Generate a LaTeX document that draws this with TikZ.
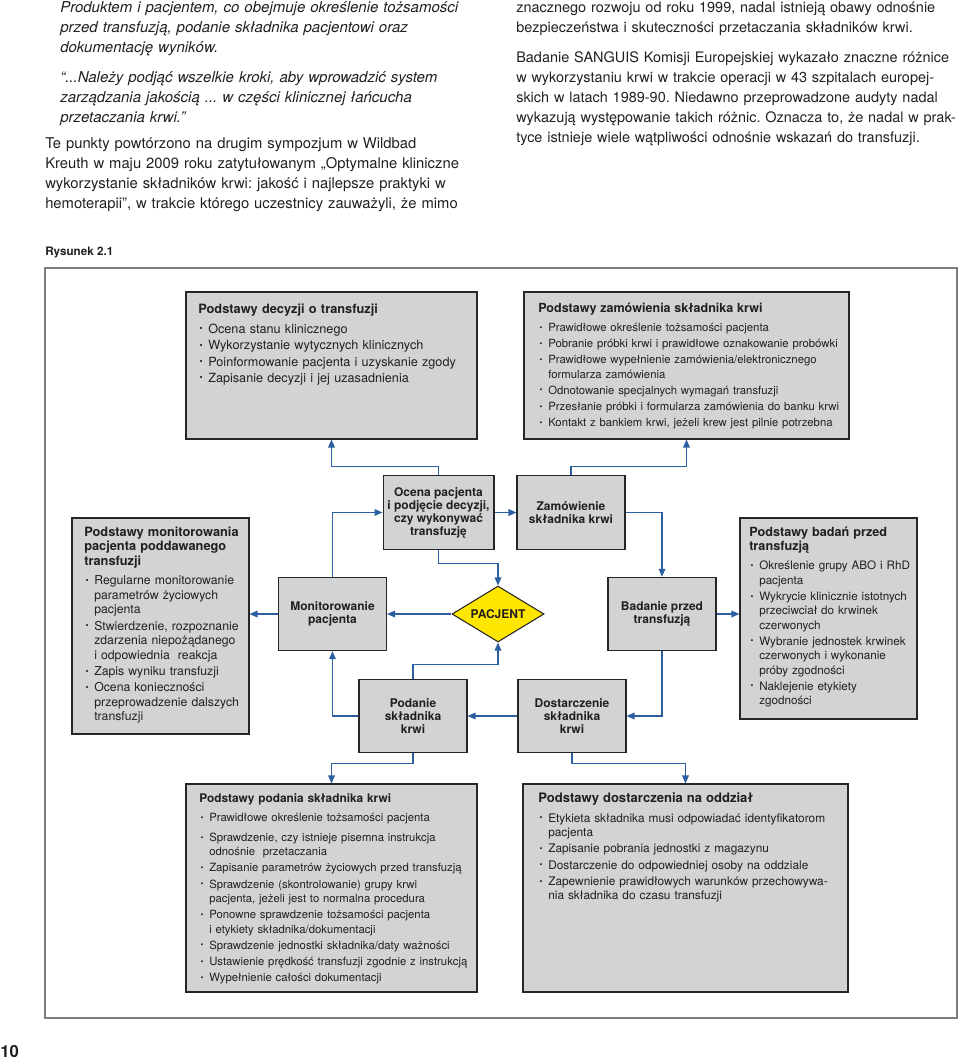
\documentclass[tikz,border=0pt]{standalone}
\usepackage{fontspec}
\setmainfont{TeX Gyre Heros}
\usetikzlibrary{arrows.meta,shapes.geometric,positioning}
\definecolor{bdgray}{RGB}{209,211,213}
\definecolor{bdframe}{RGB}{125,125,125}
\definecolor{bdblue}{RGB}{44,95,160}
\definecolor{bdyellow}{RGB}{255,230,0}
\definecolor{bdtext}{RGB}{35,31,32}
\frenchspacing
\newcommand{\boxtitle}[2]{{\fontsize{#1}{10.8}\selectfont\bfseries #2\par}\vspace{2.5pt}}
\newcommand{\itm}[1]{\par\vspace{1.3pt}\hangindent=7.5pt\hangafter=1\noindent\makebox[7.5pt][l]{\hspace{1pt}\raisebox{.22ex}{\scalebox{.7}{\textbullet}}}#1\par}

\begin{document}
\begin{tikzpicture}[x=0.75pt, y=-0.75pt, text=bdtext,
  infobox/.style={rectangle, draw=black!85, line width=0.8pt, fill=bdgray},
  stepbox/.style={infobox, minimum width=81pt, minimum height=55pt, align=center, font=\fontsize{9}{9.75}\selectfont\bfseries},
  listtext/.style={anchor=base west, inner sep=0pt, align=left, font=\fontsize{8.5}{10.8}\selectfont},
  bodytext/.style={anchor=base west, inner sep=0pt, align=left, text width=345pt, font=\fontsize{11.1}{15}\selectfont},
  flow/.style={draw=bdblue, line width=0.9pt, -{Triangle[length=6pt,width=5pt]}}]
\useasboundingbox (0,0) rectangle (960,1060);

% text above the figure
\node[bodytext, font=\fontsize{11.25}{15}\selectfont\itshape] (leftital) at (60,12.5) {Produktem i pacjentem, co obejmuje określenie tożsamości\\przed transfuzją, podanie składnika pacjentowi oraz\\dokumentację wyników.\par\vspace{7.5pt}“...Należy podjąć wszelkie kroki, aby wprowadzić system\\zarządzania jakością ... w części klinicznej łańcucha\\przetaczania krwi.”};
\node[bodytext] (leftbody) at (45,148.5) {Te punkty powtórzono na drugim sympozjum w Wildbad\\Kreuth w maju 2009 roku zatytułowanym „Optymalne kliniczne\\wykorzystanie składników krwi: jakość i najlepsze praktyki w\\hemoterapii”, w trakcie którego uczestnicy zauważyli, że mimo};
\node[bodytext, font=\fontsize{10.85}{15}\selectfont] (rightbody) at (516,12.5) {znacznego rozwoju od roku 1999, nadal istnieją obawy odnośnie\\bezpieczeństwa i skuteczności przetaczania składników krwi.\par\vspace{7.5pt}Badanie SANGUIS Komisji Europejskiej wykazało znaczne różnice\\w wykorzystaniu krwi w trakcie operacji w 43 szpitalach europej-\\skich w latach 1989-90. Niedawno przeprowadzone audyty nadal\\wykazują występowanie takich różnic. Oznacza to, że nadal w prak-\\tyce istnieje wiele wątpliwości odnośnie wskazań do transfuzji.};

\node[anchor=base west, inner sep=0pt, font=\fontsize{8.75}{10}\selectfont\bfseries] (caption) at (45,255) {Rysunek 2.1};
\draw[draw=bdframe, line width=1.5pt] (45,268) rectangle (957,1018);

% info boxes
\node[infobox, minimum width=218.25pt, minimum height=110.25pt] (decyzji) at (331.5,365.5) {};
\node[infobox, minimum width=243.75pt, minimum height=110.25pt] (zamowienia) at (686.5,365.5) {};
\node[infobox, minimum width=132.75pt, minimum height=162pt] (monitinfo) at (160.5,626) {};
\node[infobox, minimum width=132.75pt, minimum height=150.75pt] (badaninfo) at (828.5,618.5) {};
\node[infobox, minimum width=218.25pt, minimum height=156pt] (podaniainfo) at (331.5,888) {};
\node[infobox, minimum width=243.75pt, minimum height=156pt] (dostinfo) at (685.5,888) {};

\node[listtext, text width=230pt, font=\fontsize{9.5}{11}\selectfont] (decyzjitxt) at (198,313.5) {\boxtitle{9.6}{Podstawy decyzji o transfuzji}
  \itm{Ocena stanu klinicznego}
  \itm{Wykorzystanie wytycznych klinicznych}
  \itm{Poinformowanie pacjenta i uzyskanie zgody}
  \itm{Zapisanie decyzji i jej uzasadnienia}};
\node[listtext, text width=235pt] (zamowieniatxt) at (538,312) {\boxtitle{9.4}{Podstawy zamówienia składnika krwi}
  \itm{Prawidłowe określenie tożsamości pacjenta}
  \itm{Pobranie próbki krwi i prawidłowe oznakowanie probówki}
  \itm{Prawidłowe wypełnienie zamówienia/elektronicznego\newline formularza zamówienia}
  \itm{Odnotowanie specjalnych wymagań transfuzji}
  \itm{Przesłanie próbki i formularza zamówienia do banku krwi}
  \itm{Kontakt z bankiem krwi, jeżeli krew jest pilnie potrzebna}};
\node[listtext, text width=140pt, font=\fontsize{9.2}{10.9}\selectfont] (monittxt) at (84,536.5) {\boxtitle{9.6}{Podstawy monitorowania\newline pacjenta poddawanego\newline transfuzji}
  \itm{Regularne monitorowanie\newline parametrów życiowych\newline pacjenta}
  \itm{Stwierdzenie, rozpoznanie\newline zdarzenia niepożądanego\newline i odpowiednia\ \ reakcja}
  \itm{Zapis wyniku transfuzji}
  \itm{Ocena konieczności\newline przeprowadzenie dalszych\newline transfuzji}};
\node[listtext, text width=140pt, font=\fontsize{8.75}{10.8}\selectfont] (badantxt) at (749,536) {\boxtitle{9.5}{Podstawy badań przed\newline transfuzją}
  \itm{Określenie grupy ABO i RhD\newline pacjenta}
  \itm{Wykrycie klinicznie istotnych\newline przeciwciał do krwinek\newline czerwonych}
  \itm{Wybranie jednostek krwinek\newline czerwonych i wykonanie\newline próby zgodności}
  \itm{Naklejenie etykiety\newline zgodności}};
\node[listtext, text width=230pt] (podaniatxt) at (199,802.5) {\boxtitle{8.9}{Podstawy podania składnika krwi}
  \itm{Prawidłowe określenie tożsamości pacjenta}\vspace{2.5pt}
  \itm{Sprawdzenie, czy istnieje pisemna instrukcja\newline odnośnie\ \ przetaczania}
  \itm{Zapisanie parametrów życiowych przed transfuzją}
  \itm{Sprawdzenie (skontrolowanie) grupy krwi\newline pacjenta, jeżeli jest to normalna procedura}
  \itm{Ponowne sprawdzenie tożsamości pacjenta\newline i etykiety składnika/dokumentacji}
  \itm{Sprawdzenie jednostki składnika/daty ważności}
  \itm{Ustawienie prędkość transfuzji zgodnie z instrukcją}
  \itm{Wypełnienie całości dokumentacji}};
\node[listtext, text width=250pt, font=\fontsize{8.9}{10.9}\selectfont] (dosttxt) at (538,802.5) {\boxtitle{9.8}{Podstawy dostarczenia na oddział}
  \itm{Etykieta składnika musi odpowiadać identyfikatorom\newline pacjenta}
  \itm{Zapisanie pobrania jednostki z magazynu}
  \itm{Dostarczenie do odpowiedniej osoby na oddziale}
  \itm{Zapewnienie prawidłowych warunków przechowywa-\newline nia składnika do czasu transfuzji}};

% cycle around the patient
\node[stepbox] (ocena) at (438.5,512.5) {Ocena pacjenta\\i podjęcie decyzji,\\czy wykonywać\\transfuzję};
\node[stepbox] (zamowienie) at (571,512.5) {Zamówienie\\składnika krwi};
\node[stepbox] (monit) at (332.5,614) {Monitorowanie\\pacjenta};
\node[stepbox] (badanie) at (662,614) {Badanie przed\\transfuzją};
\node[stepbox] (podanie) at (413,716) {Podanie\\składnika\\krwi};
\node[stepbox] (dostarczenie) at (572,716) {Dostarczenie\\składnika\\krwi};
\node[diamond, draw=black!85, line width=0.8pt, fill=bdyellow, aspect=1.6, inner sep=0pt, minimum width=69pt, minimum height=42pt, font=\fontsize{9}{10}\selectfont\bfseries] (pacjent) at (498,614) {PACJENT};

\draw[flow] (ocena.north) -- ++(0,-9) -| (decyzji.south);
\draw[flow] (zamowienie.north) -- ++(0,-9) -| (zamowienia.south);
\draw[flow] (monit.north) |- (ocena.west);
\draw[flow] (ocena.east) -- (zamowienie.west);
\draw[flow] (ocena.south) -- ++(0,14) -| (pacjent.north);
\draw[flow] (zamowienie.east) -| (badanie.north);
\draw[flow] (badanie.east) -- (badanie.east -| badaninfo.west);
\draw[flow] (pacjent.west) -- (monit.east);
\draw[flow] (monit.west) -- (monit.west -| monitinfo.east);
\draw[flow] (badanie.south) |- (dostarczenie.east);
\draw[flow] (dostarczenie.west) -- (podanie.east);
\draw[flow] (podanie.north) -- ++(0,-14) -| (pacjent.south);
\draw[flow] (podanie.west) -| (monit.south);
\draw[flow] (podanie.south) -- ++(0,10) -| (podaniainfo.north);
\draw[flow] (dostarczenie.south) -- ++(0,10) -| (dostinfo.north);

\node[anchor=base west, inner sep=0pt, font=\fontsize{12.5}{14}\selectfont\bfseries] (pagenum) at (0,1057) {10};
\end{tikzpicture}
\end{document}
